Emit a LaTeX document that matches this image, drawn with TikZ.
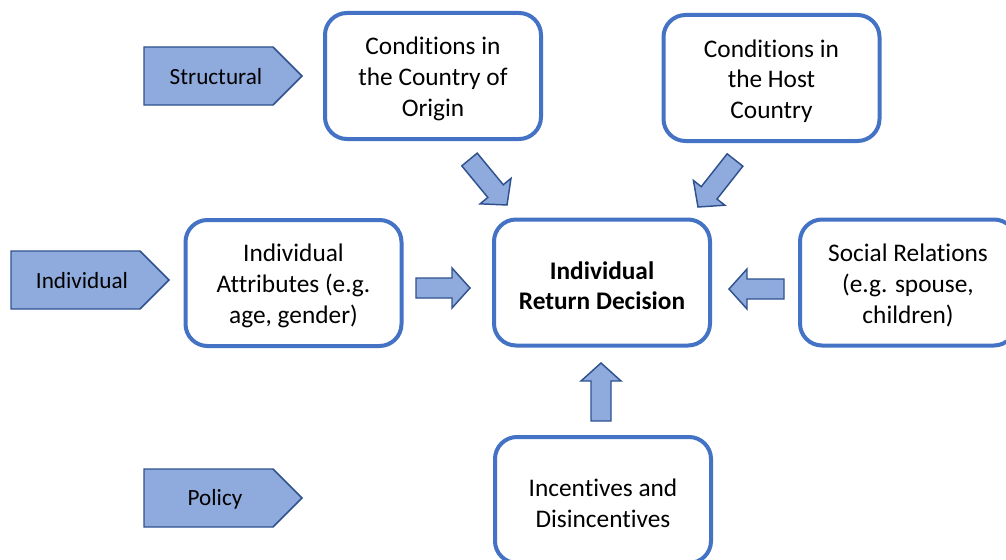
\documentclass[tikz,border=0pt]{standalone}
\usepackage{fontspec}
\setmainfont{Carlito}[Ligatures={NoCommon,NoContextual}]
\usetikzlibrary{calc}
\definecolor{boxblue}{HTML}{4472C4}
\definecolor{arrowfill}{HTML}{8FAADC}
\definecolor{arrowline}{HTML}{2F528F}
\tikzset{
  factorbox/.style={draw=boxblue, line width=3pt, rounded corners=16.5pt, fill=white,
    minimum width=162pt, minimum height=94.5pt, inner sep=0pt},
  boxtext/.style={align=center, inner sep=0pt, yshift=-2.4pt,
    font=\fontsize{19pt}{23.2pt}\selectfont},
  levelshape/.style={draw=arrowline, line width=1.1pt, fill=arrowfill, line join=miter},
  leveltext/.style={inner sep=0pt, font=\fontsize{17.4pt}{21pt}\selectfont},
  blockarrow/.style={draw=arrowline, line width=1.1pt, fill=arrowfill, line join=miter}
}
\newcommand\blockarrowdraw[2]{%
  \coordinate (hb) at ($(#2)!13.5pt!(#1)$);
  \draw[blockarrow] ($(#1)!7.5pt!90:(#2)$) -- ($(hb)!7.5pt!-90:(#1)$) -- ($(hb)!15pt!-90:(#1)$) -- (#2)
    -- ($(hb)!15pt!90:(#1)$) -- ($(hb)!7.5pt!90:(#1)$) -- ($(#1)!7.5pt!-90:(#2)$) -- cycle;}
\newcommand\levelpent[3]{% left x, top y, bottom y
  \draw[levelshape] (#1,#2) -- ({#1+129},#2) -- ({#1+158},{(#2+#3)/2}) -- ({#1+129},#3) -- (#1,#3) -- cycle;}
\begin{document}
\begin{tikzpicture}[x=0.75pt,y=-0.75pt]
\useasboundingbox (0,0) rectangle (1006,560);
\clip (0,0) rectangle (1006,560);
\fill[white] (0,0) rectangle (1006,560);

% level labels
\levelpent{144}{47}{105}
\node[leveltext] (structural) at (216,77) {Structural};
\levelpent{11}{251}{309}
\node[leveltext] (individual) at (82,281) {Individual};
\levelpent{144}{469}{527}
\node[leveltext] (policy) at (215,499) {Policy};

% factor boxes
\node[factorbox, label={[boxtext]center:{Conditions in\\the Country of\\Origin}}] (origin) at (433,76) {};
\node[factorbox, label={[boxtext]center:{Conditions in\\the Host\\Country}}] (host) at (771.5,78) {};
\node[factorbox, label={[boxtext]center:{Individual\\Attributes (e.g.\\age, gender)}}] (attrib) at (293.5,283) {};
\node[factorbox, label={[boxtext, font=\fontsize{19pt}{23.2pt}\selectfont\bfseries]center:{Individual\\Return Decision}}] (decision) at (602,282.5) {};
\node[factorbox, label={[boxtext]center:{Social Relations\\(e.g. spouse,\\children)}}] (social) at (908,282.5) {};
\node[factorbox, label={[boxtext]center:{Incentives and\\Disincentives}}] (incent) at (603,500) {};

% block arrows
\coordinate (o1) at (469.5,159.5); \coordinate (o2) at (507,205);
\coordinate (h1) at (735,160);     \coordinate (h2) at (698,207);
\coordinate (a1) at (416,288);     \coordinate (a2) at (470,288);
\coordinate (s1) at (784,289);     \coordinate (s2) at (729,289);
\coordinate (i1) at (601,421);     \coordinate (i2) at (601,363);
\blockarrowdraw{o1}{o2}
\blockarrowdraw{h1}{h2}
\blockarrowdraw{a1}{a2}
\blockarrowdraw{s1}{s2}
\blockarrowdraw{i1}{i2}
\end{tikzpicture}
\end{document}
